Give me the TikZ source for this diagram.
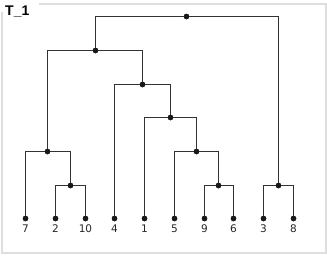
\documentclass[tikz,border=0pt]{standalone}
\usepackage{fontspec}
\setmainfont{DejaVu Sans}
\newfontfamily\titlefont{Liberation Sans}
\begin{document}
\begin{tikzpicture}[x=1pt,y=-1pt,
  edge/.style={draw=black!80,line width=1.3pt},
  dot/.style={circle,fill=black!90,inner sep=0pt,minimum size=5.5pt},
  leaflabel/.style={anchor=base,inner sep=0pt,font=\fontsize{10.5}{12}\selectfont,text=black!85},
  frame/.style={draw=black!13,line width=2pt}]
\useasboundingbox (0,0) rectangle (327,255);
% frame
\draw[frame] (39,3.5) -- (325.8,3.5) -- (325.8,253) -- (2,253) -- (2,12);
\node[anchor=base west,inner sep=0pt,font=\titlefont\bfseries\fontsize{14}{16}\selectfont] (title) at (5,15) {T\_1};
% leaves
\node[dot] (l7) at (25.5,218.5) {};
\node[dot] (l2) at (55.5,218.5) {};
\node[dot] (l10) at (85.5,218.5) {};
\node[dot] (l4) at (114.5,218.5) {};
\node[dot] (l1) at (144.5,218.5) {};
\node[dot] (l5) at (174.5,218.5) {};
\node[dot] (l9) at (204.5,218.5) {};
\node[dot] (l6) at (233.5,218.5) {};
\node[dot] (l3) at (263.5,218.5) {};
\node[dot] (l8) at (293.5,218.5) {};
% internal
\node[dot] (n210) at (70.5,185.5) {};
\node[dot] (n7) at (47.5,151.5) {};
\node[dot] (n96) at (218.5,185.5) {};
\node[dot] (n5) at (196.5,151.5) {};
\node[dot] (n38) at (278.5,185.5) {};
\node[dot] (n1) at (170.5,117.5) {};
\node[dot] (n4) at (142.5,84.5) {};
\node[dot] (nL) at (95.5,50.5) {};
\node[dot] (root) at (186.5,16.5) {};
% edges
\draw[edge] (n210.center) -| (l2.center);
\draw[edge] (n210.center) -| (l10.center);
\draw[edge] (n7.center) -| (l7.center);
\draw[edge] (n7.center) -| (n210.center);
\draw[edge] (n96.center) -| (l9.center);
\draw[edge] (n96.center) -| (l6.center);
\draw[edge] (n5.center) -| (l5.center);
\draw[edge] (n5.center) -| (n96.center);
\draw[edge] (n38.center) -| (l3.center);
\draw[edge] (n38.center) -| (l8.center);
\draw[edge] (n1.center) -| (l1.center);
\draw[edge] (n1.center) -| (n5.center);
\draw[edge] (n4.center) -| (l4.center);
\draw[edge] (n4.center) -| (n1.center);
\draw[edge] (nL.center) -| (n7.center);
\draw[edge] (nL.center) -| (n4.center);
\draw[edge] (root.center) -| (nL.center);
\draw[edge] (root.center) -| (n38.center);
% redraw dots on top
\foreach \n in {l7,l2,l10,l4,l1,l5,l9,l6,l3,l8,n210,n7,n96,n5,n38,n1,n4,nL,root}
  \fill[black!90] (\n.center) circle (2.75pt);
% labels
\node[leaflabel] (t7) at (25.5,232) {7};
\node[leaflabel] (t2) at (55.5,232) {2};
\node[leaflabel] (t10) at (85.5,232) {10};
\node[leaflabel] (t4) at (114.5,232) {4};
\node[leaflabel] (t1) at (144.5,232) {1};
\node[leaflabel] (t5) at (174.5,232) {5};
\node[leaflabel] (t9) at (204.5,232) {9};
\node[leaflabel] (t6) at (233.5,232) {6};
\node[leaflabel] (t3) at (263.5,232) {3};
\node[leaflabel] (t8) at (293.5,232) {8};
\end{tikzpicture}
\end{document}
